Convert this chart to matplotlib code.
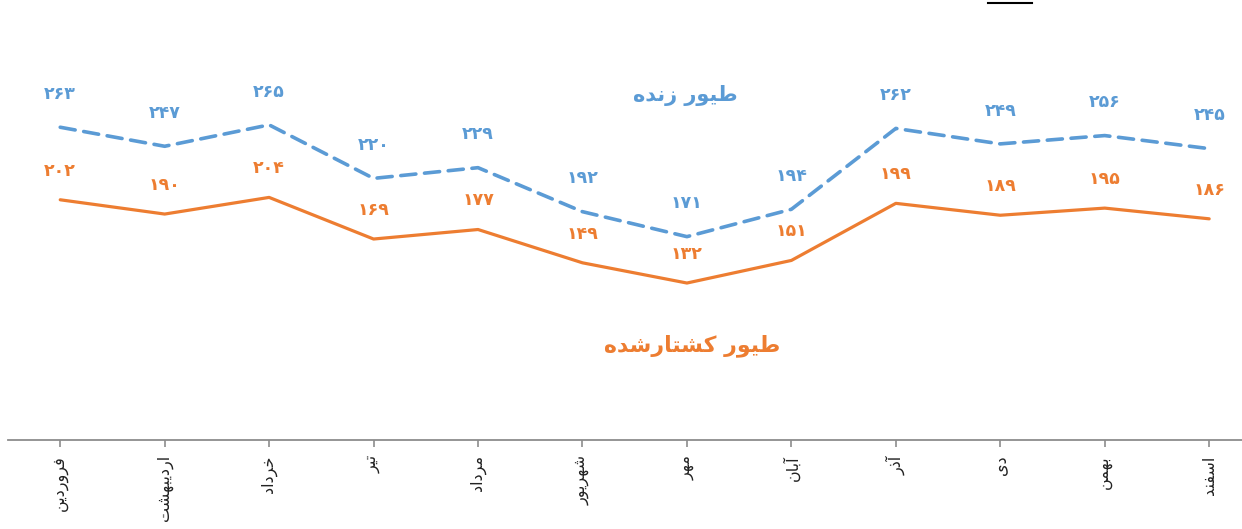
import matplotlib.pyplot as plt
from matplotlib.lines import Line2D

# data
months = ["فروردین", "اردیبهشت", "خرداد", "تیر", "مرداد", "شهریور",
          "مهر", "آبان", "آذر", "دی", "بهمن", "اسفند"]
live = [263, 247, 265, 220, 229, 192, 171, 194, 262, 249, 256, 245]
slaughtered = [202, 190, 204, 169, 177, 149, 132, 151, 199, 189, 195, 186]
live_name = "طیور زنده"
slaughtered_name = "طیور کشتارشده"

# simple persian shaping: (isolated, final, initial, medial)
FORMS = {
    "ط": "\uFEC1\uFEC2\uFEC3\uFEC4", "ی": "\uFBFC\uFBFD\uFBFE\uFBFF",
    "ن": "\uFEE5\uFEE6\uFEE7\uFEE8", "ه": "\uFEE9\uFEEA\uFEEB\uFEEC",
    "ک": "\uFB8E\uFB8F\uFB90\uFB91", "ش": "\uFEB5\uFEB6\uFEB7\uFEB8",
    "ت": "\uFE95\uFE96\uFE97\uFE98", "ف": "\uFED1\uFED2\uFED3\uFED4",
    "خ": "\uFEA5\uFEA6\uFEA7\uFEA8", "ب": "\uFE8F\uFE90\uFE91\uFE92",
    "م": "\uFEE1\uFEE2\uFEE3\uFEE4", "س": "\uFEB1\uFEB2\uFEB3\uFEB4",
    "و": "\uFEED\uFEEE", "ر": "\uFEAD\uFEAE", "ز": "\uFEAF\uFEB0",
    "د": "\uFEA9\uFEAA", "ا": "\uFE8D\uFE8E", "آ": "\uFE81\uFE82",
    "ذ": "\uFEAB\uFEAC",
}


def shape(text):
    out = []
    for i, ch in enumerate(text):
        if ch not in FORMS:
            out.append(ch)
            continue
        prev = text[i - 1] if i > 0 else ""
        nxt = text[i + 1] if i + 1 < len(text) else ""
        join_prev = prev in FORMS and len(FORMS[prev]) == 4
        join_next = nxt in FORMS and len(FORMS[ch]) == 4
        f = FORMS[ch]
        if join_prev and join_next:
            out.append(f[3])
        elif join_prev:
            out.append(f[1])
        elif join_next:
            out.append(f[2])
        else:
            out.append(f[0])
    return "".join(out)[::-1]


def fa_num(n):
    return str(n).translate(str.maketrans("0123456789", "۰۱۲۳۴۵۶۷۸۹"))


blue = "#5B9BD5"
orange = "#ED7D31"

fig = plt.figure(figsize=(12.42, 5.29), dpi=100)
ax = fig.add_axes([8 / 1242, 89 / 529, 12 * 104.45 / 1242, 440 / 529])
x = list(range(len(months)))

# curves
ax.plot(x, live, color=blue, linewidth=2.6, linestyle=(0, (4.2, 2.4)),
        dash_capstyle="round")
ax.plot(x, slaughtered, color=orange, linewidth=2.3, solid_capstyle="round")

# value labels
for xi, v in zip(x, live):
    ax.annotate(fa_num(v), (xi, v), xytext=(0, 24), textcoords="offset points",
                ha="center", va="center", color=blue, fontsize=12.5,
                fontweight="bold")
for xi, v in zip(x, slaughtered):
    ax.annotate(fa_num(v), (xi, v), xytext=(0, 21), textcoords="offset points",
                ha="center", va="center", color=orange, fontsize=12.5,
                fontweight="bold")

# series names
ax.text(5.98, 290, shape(live_name), color=blue, fontsize=15,
        fontweight="bold", ha="center", va="center")
ax.text(6.05, 79, shape(slaughtered_name), color=orange, fontsize=15.8,
        fontweight="bold", ha="center", va="center")

# axes
ax.set_xlim(-0.5, 11.5)
ax.set_ylim(0, 370)
for s in ["top", "right", "left"]:
    ax.spines[s].set_visible(False)
ax.spines["bottom"].set_color("#8c8c8c")
ax.spines["bottom"].set_linewidth(1.3)
ax.set_yticks([])
ax.set_xticks(x)
ax.set_xticklabels([shape(m) for m in months], rotation=90, ha="center",
                   va="top", fontsize=11.5, color="#222222")
ax.tick_params(axis="x", direction="out", length=5, width=1.2,
               color="#8c8c8c", pad=6)

# small black mark at the top edge
fig.add_artist(Line2D([988 / 1242, 1032 / 1242], [1 - 3 / 529, 1 - 3 / 529],
                      color="black", linewidth=1.5))

fig.savefig("out.png", dpi=100)
